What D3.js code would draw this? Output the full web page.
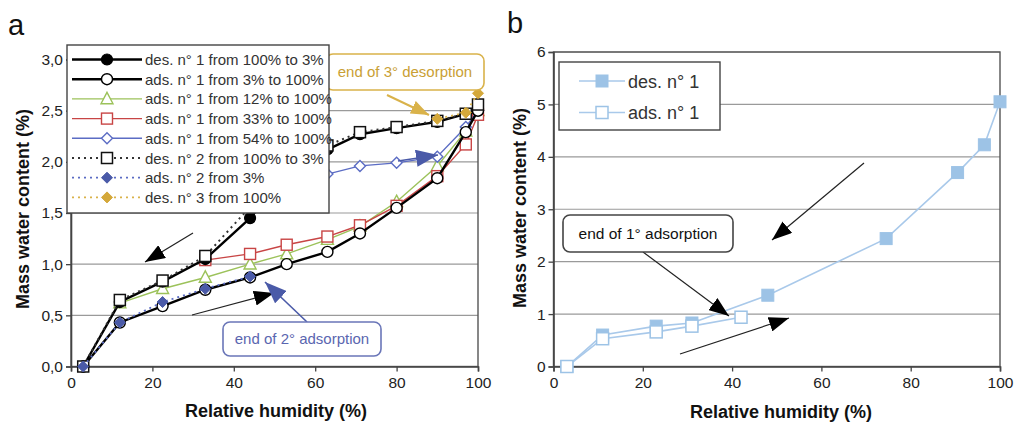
<!DOCTYPE html>
<html lang="en">
<head>
<meta charset="UTF-8">
<title>Sorption cycles</title>
<script src="https://cdn.jsdelivr.net/npm/d3@7/dist/d3.min.js"></script>
<style>
    body {background:#fff; margin:0}
    svg {display:block; font-family:"Liberation Sans", Arial, Helvetica, sans-serif}
    .tick text {font-size:15.5px; fill:#222}
    .axTitle {font-size:18px; font-weight:bold; fill:#111}
    .panelLabel {font-size:29px; fill:#111}
    .legText {font-size:15px; fill:#333}
</style>
</head>
<body>
<svg id="chart" width="1014" height="423"></svg>
<script>
// ---- panel a : relative humidity steps (%)
var rhA = [3, 12, 22.5, 33, 44, 53, 63, 71, 80, 90, 97, 100];
var des1 = [0, 0.63, 0.83, 1.05, 1.45, 1.87, 2.12, 2.27, 2.33, 2.39, 2.47, 2.5];
var ads1 = [0, 0.43, 0.59, 0.75, 0.87, 1.0, 1.12, 1.3, 1.55, 1.84, 2.29, 2.5];
var rhFrom12 = [12, 22.5, 33, 44, 53, 63, 71, 80, 90, 97, 100];
var ads1From12 = [0.62, 0.76, 0.87, 1.0, 1.1, 1.24, 1.37, 1.61, 1.96, 2.3, 2.5];
var rhFrom33 = [33, 44, 53, 63, 71, 80, 90, 97, 100];
var ads1From33 = [1.04, 1.1, 1.19, 1.27, 1.38, 1.57, 1.86, 2.17, 2.46];
var rhFrom54 = [53, 63, 71, 80, 90, 97, 100];
var ads1From54 = [1.86, 1.88, 1.96, 1.99, 2.05, 2.34, 2.5];
var des2 = [0, 0.65, 0.84, 1.08, 1.56, 1.92, 2.16, 2.29, 2.34, 2.4, 2.47, 2.56];
var rhAds2 = [3, 12, 22.5, 33, 44];
var ads2 = [0, 0.43, 0.63, 0.76, 0.88];
var rhDes3 = [100, 97, 90];
var des3 = [2.67, 2.48, 2.42];
var yTicksA = [0, 0.5, 1, 1.5, 2, 2.5, 3];
var xTicks = [0, 20, 40, 60, 80, 100];

// ---- panel b
var rhDesB = [3, 11, 23, 31, 48, 74.5, 90.5, 96.5, 100];
var desB = [0, 0.6, 0.77, 0.83, 1.36, 2.44, 3.7, 4.23, 5.05];
var rhAdsB = [3, 11, 23, 31, 42];
var adsB = [0, 0.53, 0.66, 0.77, 0.94];
var yTicksB = [0, 1, 2, 3, 4, 5, 6];

var svg = d3.select("#chart");
var defs = svg.append("defs");
function arrowHead(id, color, len, wid) {
    defs.append("marker")
        .attr("id", id)
        .attr("markerUnits", "userSpaceOnUse")
        .attr("viewBox", "0 0 " + len + " " + wid)
        .attr("refX", len).attr("refY", wid / 2)
        .attr("markerWidth", len).attr("markerHeight", wid)
        .attr("orient", "auto")
        .append("path")
        .attr("d", "M0,0L" + len + "," + (wid / 2) + "L0," + wid + "Z")
        .attr("fill", color);
}
arrowHead("hBlack", "#000", 20, 15);
arrowHead("hBlue", "#4a5aa8", 22, 17);
arrowHead("hGold", "#d9b24a", 18, 14);

// scales
var xA = d3.scaleLinear().domain([0, 100]).range([71, 478]);
var yA = d3.scaleLinear().domain([0, 3]).range([366.5, 59.5]);
var xB = d3.scaleLinear().domain([0, 100]).range([553.5, 1000]);
var yB = d3.scaleLinear().domain([0, 6]).range([366.5, 52]);

function frame(g, x, y, yTicks, yFmt) {
    // gridlines
    g.selectAll(".grid").data(yTicks.slice(1)).enter().append("line")
        .attr("x1", x.range()[0]).attr("x2", x.range()[1])
        .attr("y1", function(d){ return y(d); }).attr("y2", function(d){ return y(d); })
        .attr("stroke", "#9a9a9a").attr("stroke-width", 1.2);
    g.append("rect")
        .attr("x", x.range()[0]).attr("y", y.range()[1])
        .attr("width", x.range()[1] - x.range()[0]).attr("height", y.range()[0] - y.range()[1])
        .attr("fill", "none").attr("stroke", "#555").attr("stroke-width", 1.4);
    var ax = g.append("g").attr("transform", "translate(0," + y.range()[0] + ")")
        .call(d3.axisBottom(x).tickValues(xTicks).tickSize(5).tickPadding(5));
    var ay = g.append("g").attr("transform", "translate(" + x.range()[0] + ",0)")
        .call(d3.axisLeft(y).tickValues(yTicks).tickSize(5).tickPadding(3).tickFormat(yFmt));
    [ax, ay].forEach(function(a){
        a.select(".domain").attr("stroke", "#444").attr("stroke-width", 1.6);
        a.selectAll(".tick line").attr("stroke", "#444").attr("stroke-width", 1.3);
    });
}

function series(g, x, y, xs, ys, opt) {
    var pts = xs.map(function(v, i){ return [x(v), y(ys[i])]; });
    g.append("path").attr("d", d3.line()(pts))
        .attr("fill", "none").attr("stroke", opt.line)
        .attr("stroke-width", opt.lw)
        .attr("stroke-dasharray", opt.dash || null);
    pts.forEach(function(p){ marker(g, p[0], p[1], opt); });
}

function marker(g, cx, cy, opt) {
    var s = opt.size, m;
    if (opt.shape == "circle") {
        m = g.append("circle").attr("cx", cx).attr("cy", cy).attr("r", s / 2);
    } else if (opt.shape == "square") {
        m = g.append("rect").attr("x", cx - s / 2).attr("y", cy - s / 2).attr("width", s).attr("height", s);
    } else if (opt.shape == "triangle") {
        m = g.append("path").attr("d", "M" + cx + "," + (cy - s * 0.55) + "L" + (cx + s / 2) + "," + (cy + s * 0.4) + "L" + (cx - s / 2) + "," + (cy + s * 0.4) + "Z");
    } else {
        m = g.append("path").attr("d", "M" + cx + "," + (cy - s / 2) + "L" + (cx + s / 2) + "," + cy + "L" + cx + "," + (cy + s / 2) + "L" + (cx - s / 2) + "," + cy + "Z");
    }
    m.attr("fill", opt.fill).attr("stroke", opt.stroke).attr("stroke-width", opt.sw);
}

function arrow(g, x1, y1, x2, y2, color, w, head) {
    g.append("line").attr("x1", x1).attr("y1", y1).attr("x2", x2).attr("y2", y2)
        .attr("stroke", color).attr("stroke-width", w).attr("marker-end", "url(#" + head + ")");
}

function callout(g, x, y, w, h, text, color, tcolor, fs) {
    g.append("rect").attr("x", x).attr("y", y).attr("width", w).attr("height", h)
        .attr("rx", 7).attr("fill", "#fff").attr("stroke", color).attr("stroke-width", 1.6);
    g.append("text").attr("x", x + w / 2).attr("y", y + h / 2 + 5).attr("text-anchor", "middle")
        .style("font-size", fs + "px").attr("fill", tcolor).text(text);
}

var commaFmt = function(d){ return d3.format(".1f")(d).replace(".", ","); };

// ================= panel a =================
var gA = svg.append("g");
frame(gA, xA, yA, yTicksA, commaFmt);

var styles = [
    {key: "des. n\u00b0 1 from 100% to 3%", xs: rhA, ys: des1, line: "#000", lw: 2.4, shape: "circle", size: 11, fill: "#000", stroke: "#000", sw: 1.2},
    {key: "ads. n\u00b0 1 from 3% to 100%", xs: rhA, ys: ads1, line: "#000", lw: 2.4, shape: "circle", size: 11, fill: "#fff", stroke: "#000", sw: 1.4},
    {key: "ads. n\u00b0 1 from 12% to 100%", xs: rhFrom12, ys: ads1From12, line: "#9cc25a", lw: 1.4, shape: "triangle", size: 12, fill: "#fff", stroke: "#9cc25a", sw: 1.4},
    {key: "ads. n\u00b0 1 from 33% to 100%", xs: rhFrom33, ys: ads1From33, line: "#c84545", lw: 1.4, shape: "square", size: 11, fill: "#fff", stroke: "#c84545", sw: 1.4},
    {key: "ads. n\u00b0 1 from 54% to 100%", xs: rhFrom54, ys: ads1From54, line: "#5b6cc4", lw: 1.4, shape: "diamond", size: 11, fill: "#fff", stroke: "#5b6cc4", sw: 1.4},
    {key: "des. n\u00b0 2 from 100% to 3%", xs: rhA, ys: des2, line: "#333", lw: 2, dash: "2,4", shape: "square", size: 11, fill: "#fff", stroke: "#111", sw: 1.5},
    {key: "ads. n\u00b0 2 from 3%", xs: rhAds2, ys: ads2, line: "#5b6cc4", lw: 1.8, dash: "2,4", shape: "diamond", size: 11, fill: "#4a5aa8", stroke: "#4a5aa8", sw: 1},
    {key: "des. n\u00b0 3 from 100%", xs: rhDes3, ys: des3, line: "#d9b24a", lw: 1.8, dash: "2,4", shape: "diamond", size: 11, fill: "#d4a83a", stroke: "#d4a83a", sw: 1}
];
// colored series below, black series on top
[2, 3, 4, 0, 1, 5, 6, 7].forEach(function(i){
    var s = styles[i];
    series(gA, xA, yA, s.xs, s.ys, s);
});

// annotations a
arrow(gA, 193, 233, 145, 262, "#222", 1.2, "hBlack");
arrow(gA, 192, 315, 274, 293, "#222", 1.2, "hBlack");
arrow(gA, 307, 322, 265, 282, "#4a5aa8", 1.6, "hBlue");
arrow(gA, 398, 161, 438, 155, "#4a5aa8", 1.6, "hBlue");
arrow(gA, 387, 95, 429, 115, "#d9b24a", 2, "hGold");
callout(gA, 223, 322, 158, 34, "end of 2\u00b0 adsorption", "#6a76b8", "#5a66b0", 15);
callout(gA, 326, 54, 158, 36, "end of 3\u00b0 desorption", "#d9b24a", "#c9a035", 15);

// legend a
var legA = gA.append("g");
legA.append("rect").attr("x", 67).attr("y", 45).attr("width", 262).attr("height", 168)
    .attr("fill", "#fff").attr("stroke", "#444").attr("stroke-width", 1.4);
styles.forEach(function(s, i){
    var yy = 59.5 + i * 19.7;
    legA.append("line").attr("x1", 72).attr("x2", 142).attr("y1", yy).attr("y2", yy)
        .attr("stroke", s.line).attr("stroke-width", s.lw).attr("stroke-dasharray", s.dash || null);
    marker(legA, 107, yy, s);
    legA.append("text").attr("class", "legText").attr("x", 145).attr("y", yy + 5.5).text(s.key);
});

gA.append("text").attr("class", "axTitle").attr("x", 276).attr("y", 417).attr("text-anchor", "middle").text("Relative humidity (%)");
gA.append("text").attr("class", "axTitle").attr("transform", "translate(29,209) rotate(-90)").attr("text-anchor", "middle").text("Mass water content (%)");
gA.append("text").attr("class", "panelLabel").attr("x", 8).attr("y", 35).text("a");

// ================= panel b =================
var gB = svg.append("g");
frame(gB, xB, yB, yTicksB, d3.format("d"));

var bStyles = [
    {key: "des. n\u00b0 1", xs: rhDesB, ys: desB, line: "#a9c9ea", lw: 1.6, shape: "square", size: 12, fill: "#9dc3e6", stroke: "#9dc3e6", sw: 1},
    {key: "ads. n\u00b0 1", xs: rhAdsB, ys: adsB, line: "#a9c9ea", lw: 1.6, shape: "square", size: 12, fill: "#fff", stroke: "#9dc3e6", sw: 1.5}
];
bStyles.forEach(function(s){ series(gB, xB, yB, s.xs, s.ys, s); });

arrow(gB, 864, 163, 772, 240, "#222", 1.2, "hBlack");
arrow(gB, 643, 252, 729, 316, "#222", 1.2, "hBlack");
arrow(gB, 680, 354, 789, 318, "#222", 1.2, "hBlack");
callout(gB, 563, 215, 170, 37, "end of 1\u00b0 adsorption", "#444", "#111", 15.5);

var legB = gB.append("g");
legB.append("rect").attr("x", 559).attr("y", 62).attr("width", 161).attr("height", 68)
    .attr("fill", "#fff").attr("stroke", "#444").attr("stroke-width", 1.4);
bStyles.forEach(function(s, i){
    var yy = 81 + i * 31.5;
    legB.append("line").attr("x1", 579).attr("x2", 625).attr("y1", yy).attr("y2", yy)
        .attr("stroke", s.line).attr("stroke-width", s.lw);
    marker(legB, 602, yy, s);
    legB.append("text").attr("class", "legText").style("font-size", "18px").attr("fill", "#222")
        .attr("x", 628).attr("y", yy + 6.5).text(s.key);
});

gB.append("text").attr("class", "axTitle").attr("x", 781).attr("y", 418).attr("text-anchor", "middle").text("Relative humidity (%)");
gB.append("text").attr("class", "axTitle").attr("transform", "translate(526,208) rotate(-90)").attr("text-anchor", "middle").text("Mass water content (%)");
gB.append("text").attr("class", "panelLabel").attr("x", 507).attr("y", 33).text("b");
</script>
</body>
</html>
